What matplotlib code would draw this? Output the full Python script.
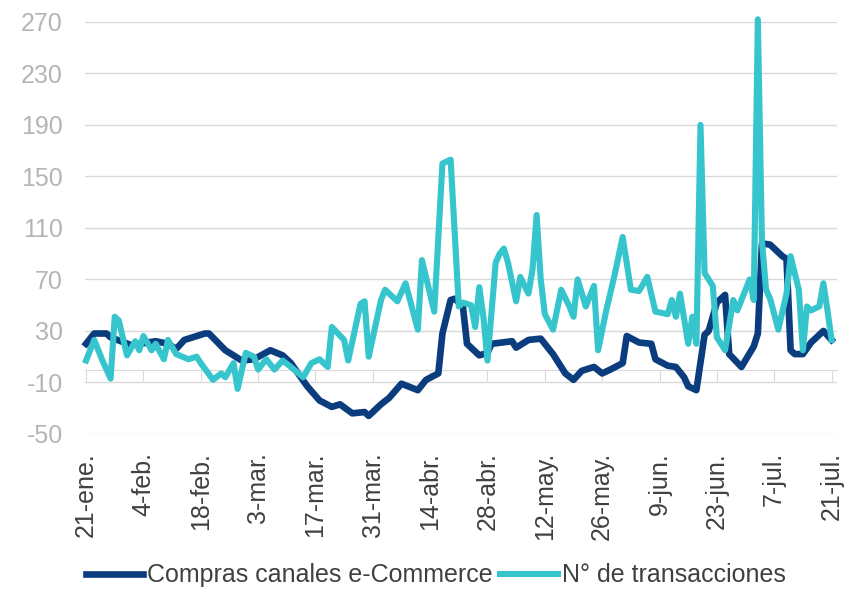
import numpy as np
import pandas as pd
import matplotlib
matplotlib.use('Agg')
import matplotlib.pyplot as plt

plt.rcParams['font.family'] = ['Liberation Sans', 'DejaVu Sans']
plt.rcParams['axes.unicode_minus'] = False

inicio = pd.Timestamp('2020-01-21')

# dias desde 21-ene y valores
dias_compras = [0, 2, 5, 6, 11, 17, 20, 22, 24, 29, 30, 34, 38, 41, 45, 48, 50, 54, 57, 60,
                62, 65, 68, 69, 72, 74, 77, 81, 83, 86, 87, 89, 90, 92, 93, 96, 98, 99, 104, 105,
                107, 108, 111, 114, 117, 119, 121, 124, 126, 128, 131, 132, 135, 138, 139, 142, 144, 146, 147, 149,
                151, 152, 154, 156, 157, 160, 163, 164, 165, 167, 170, 171, 172, 173, 175, 177, 180, 182]
compras = [20, 28, 28, 25, 19, 22, 20, 16, 23, 28, 28, 15, 7, 8, 15, 11, 5, -13, -24, -29,
           -27, -34, -33, -36, -27, -22, -11, -16, -8, -3, 28, 54, 55, 49, 20, 11, 13, 20, 22, 17,
           21, 23, 24, 12, -3, -8, -1, 2, -3, 0, 5, 26, 21, 20, 8, 3, 2, -6, -13, -16,
           27, 30, 52, 58, 12, 2, 18, 28, 98, 97, 88, 86, 15, 12, 12, 21, 30, 23]

dias_trans = [0, 2, 4, 6, 7, 8, 10, 12, 13, 14, 16, 17, 19, 20, 22, 25, 27, 28, 31, 33,
              34, 36, 37, 39, 41, 42, 44, 46, 48, 50, 53, 55, 57, 59, 60, 63, 64, 67, 68, 69,
              72, 73, 76, 78, 81, 82, 85, 87, 89, 91, 92, 94, 95, 96, 97, 98, 100, 101, 102, 103,
              105, 106, 108, 109, 110, 111, 112, 114, 116, 118, 119, 120, 122, 124, 125, 127, 129, 131, 133, 135,
              137, 139, 142, 143, 144, 145, 147, 148, 149, 150, 151, 153, 154, 156, 158, 159, 162, 163, 164, 165,
              166, 167, 169, 171, 172, 174, 175, 176, 177, 179, 180, 181, 182]
transacciones = [7, 23, 7, -7, 41, 38, 11, 22, 15, 26, 15, 20, 8, 23, 12, 8, 10, 5, -8, -3,
                 -6, 5, -15, 13, 10, 0, 8, 0, 7, 2, -6, 5, 8, 2, 33, 23, 7, 51, 53, 10,
                 54, 62, 53, 67, 31, 85, 45, 160, 163, 49, 52, 50, 33, 64, 41, 7, 83, 90, 94, 83,
                 53, 72, 59, 78, 120, 70, 43, 31, 62, 49, 41, 70, 49, 65, 15, 46, 73, 103, 62, 61,
                 72, 45, 43, 54, 41, 59, 20, 41, 20, 190, 75, 65, 25, 15, 54, 46, 70, 54, 272, 100,
                 62, 55, 31, 59, 88, 62, 15, 49, 46, 49, 67, 46, 23]

etiquetas = ['21-ene.', '4-feb.', '18-feb.', '3-mar.', '17-mar.', '31-mar.', '14-abr.',
             '28-abr.', '12-may.', '26-may.', '9-jun.', '23-jun.', '7-jul.', '21-jul.']
y_ticks = [-50, -10, 30, 70, 110, 150, 190, 230, 270]

fechas_c = inicio + pd.to_timedelta(dias_compras, unit='D')
fechas_t = inicio + pd.to_timedelta(dias_trans, unit='D')
fechas_ticks = pd.date_range(inicio, periods=len(etiquetas), freq='14D')

fig = plt.figure(figsize=(8.46, 5.92), dpi=100)
ax = fig.add_axes([0.1005, 0.267, 0.8885, 0.696])

ax.plot(fechas_c, compras, color='#0B3D7E', lw=4.8, solid_joinstyle='round',
        label='Compras canales e-Commerce', zorder=3, clip_on=False)
ax.plot(fechas_t, transacciones, color='#36C5CD', lw=4.4, solid_joinstyle='round',
        label='N° de transacciones', zorder=4, clip_on=False)

ax.set_ylim(-50, 270)
ax.set_yticks(y_ticks)
ax.set_xlim(inicio - pd.Timedelta(hours=6), fechas_ticks[-1] + pd.Timedelta(hours=30))

ax.yaxis.grid(True, color='#D9D9D9', lw=1)
ax.set_axisbelow(True)
for s in ['left', 'right', 'top']:
    ax.spines[s].set_visible(False)
ax.spines['bottom'].set_position(('data', 0))
ax.spines['bottom'].set_color('#D9D9D9')
ax.spines['bottom'].set_zorder(1)

ax.set_xticks(fechas_ticks)
ax.tick_params(axis='x', direction='out', length=8, color='#D9D9D9', labelbottom=False)
ax.tick_params(axis='y', length=0, pad=16, labelsize=18, labelcolor='#B5B5B5')

# etiquetas del eje x abajo del grafico
sec = ax.secondary_xaxis(0.0)
sec.set_xticks(fechas_ticks)
sec.set_xticklabels(etiquetas, rotation=90, fontsize=18, color='#404040')
sec.tick_params(length=0, pad=13)
sec.spines['bottom'].set_visible(False)

fig.legend(loc='lower center', bbox_to_anchor=(0.515, -0.03), ncol=2, frameon=False,
           fontsize=18, handlelength=2.3, handletextpad=0.15, columnspacing=0.3,
           labelcolor='#404040')

fig.savefig('out.png', dpi=100)
